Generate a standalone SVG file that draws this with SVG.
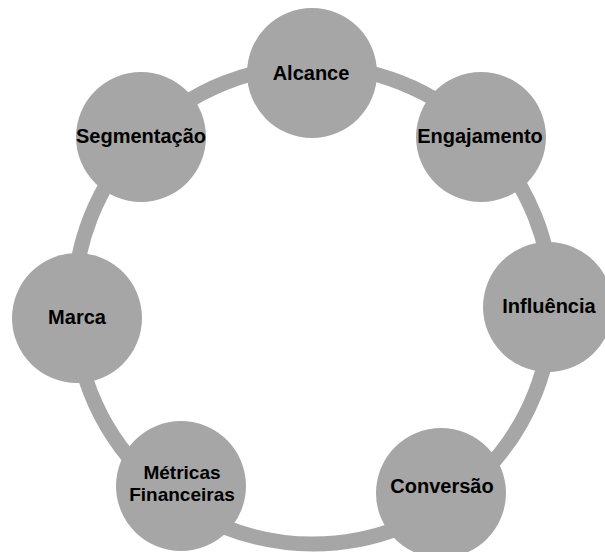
<svg xmlns="http://www.w3.org/2000/svg" width="605" height="552" viewBox="0 0 605 552">
  <style>
    .node { fill: #a6a6a6; }
    .ring { fill: none; stroke: #a6a6a6; stroke-width: 15; }
    .label { font-family: "Liberation Sans", Arial, sans-serif; font-weight: bold; font-size: 20px; fill: #000000; text-anchor: middle; }
    .small { font-size: 19px; }
  </style>
  <rect width="605" height="552" fill="#ffffff"/>
  <g id="connectors">
    <circle class="ring" cx="313" cy="305" r="239"/>
  </g>
  <g id="alcance">
    <circle class="node" cx="312" cy="73" r="65"/>
    <text class="label" x="311" y="80">Alcance</text>
  </g>
  <g id="engajamento">
    <circle class="node" cx="481" cy="137" r="65"/>
    <text class="label" x="480" y="143">Engajamento</text>
  </g>
  <g id="influencia">
    <circle class="node" cx="548" cy="307" r="65"/>
    <text class="label" x="549" y="313">Influência</text>
  </g>
  <g id="conversao">
    <circle class="node" cx="441" cy="493" r="65"/>
    <text class="label" x="442" y="493">Conversão</text>
  </g>
  <g id="metricas-financeiras">
    <circle class="node" cx="181" cy="486" r="65"/>
    <text class="label small" x="182" y="479">Métricas</text>
    <text class="label small" x="182" y="501">Financeiras</text>
  </g>
  <g id="marca">
    <circle class="node" cx="77" cy="318" r="65"/>
    <text class="label" x="77" y="324">Marca</text>
  </g>
  <g id="segmentacao">
    <circle class="node" cx="141" cy="137" r="65"/>
    <text class="label" x="141" y="143">Segmentação</text>
  </g>
</svg>
